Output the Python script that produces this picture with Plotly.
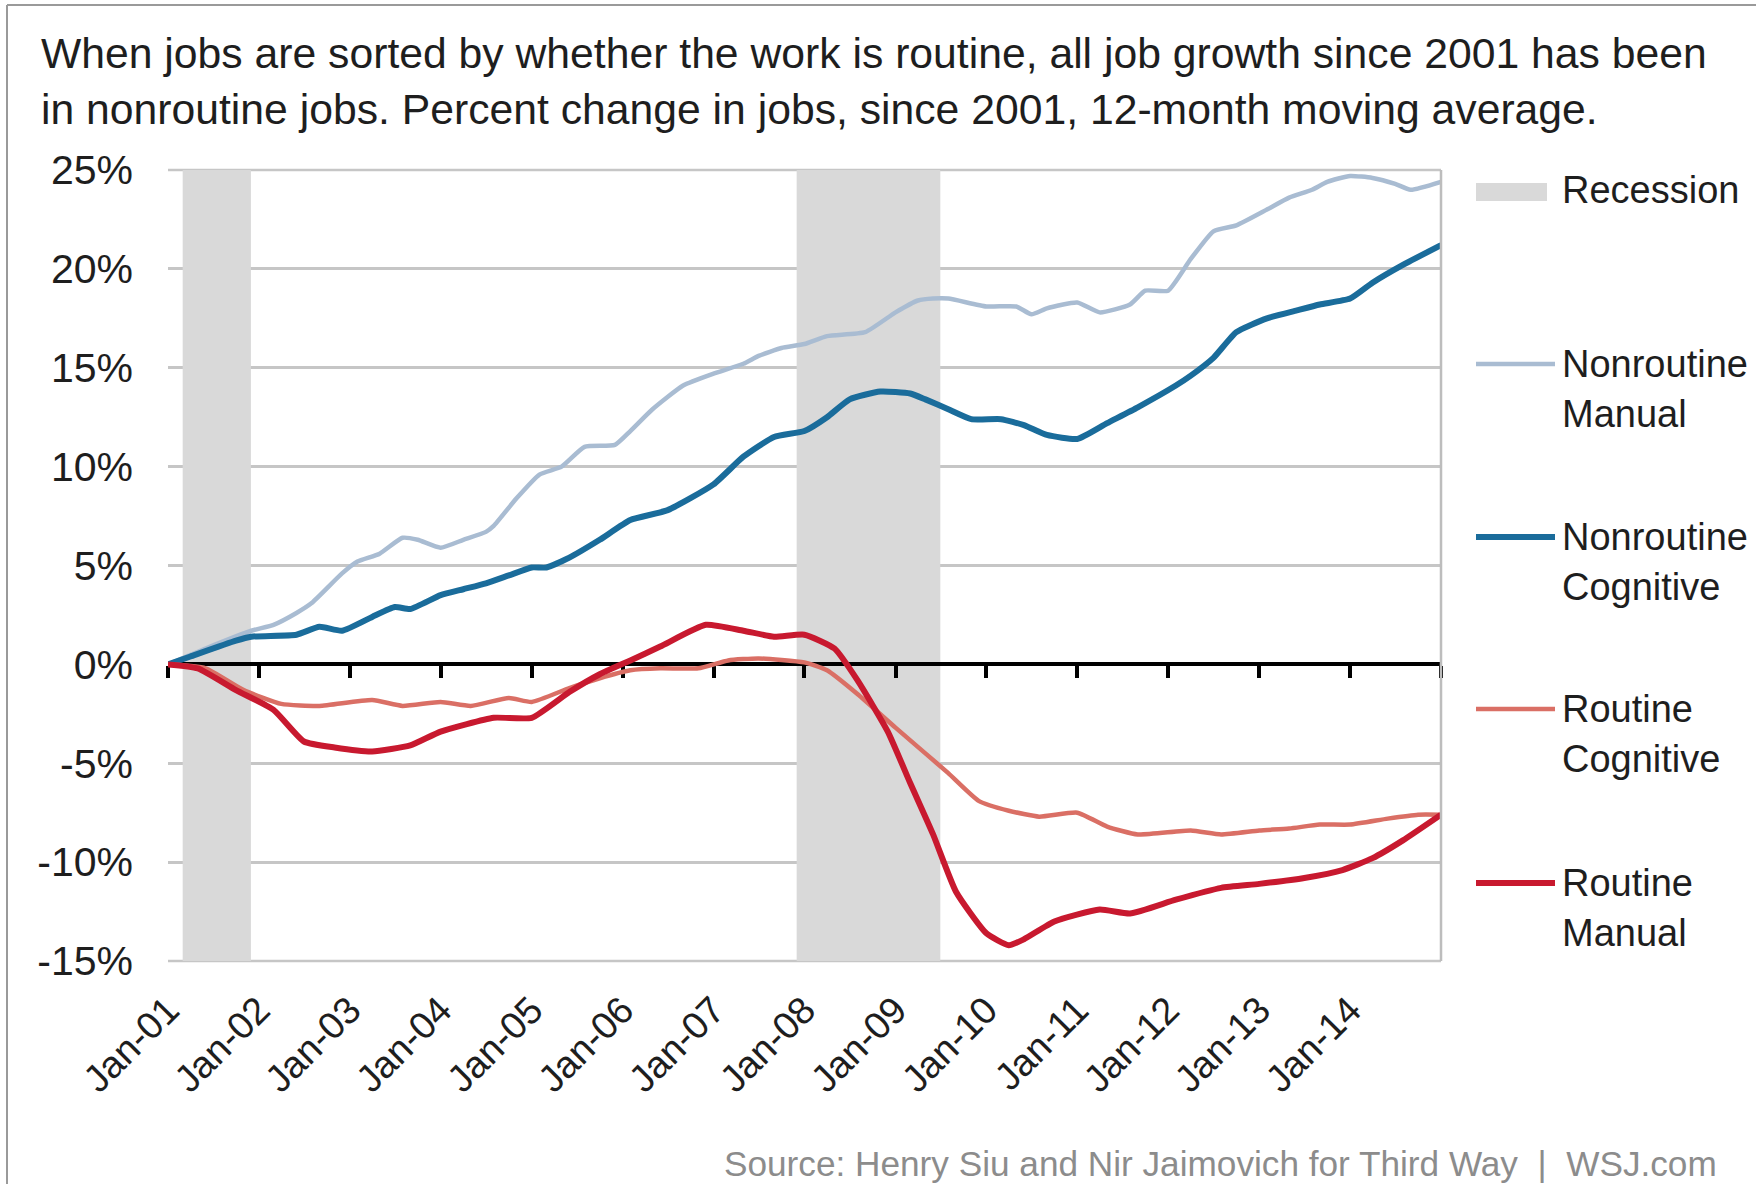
import plotly.graph_objects as go

# Percent change in jobs since January 2001, 12-month moving average
nm_dates = ["2001-01", "2001-06", "2001-12", "2002-03", "2002-06", "2002-08", "2002-12",
            "2003-02", "2003-05", "2003-08", "2003-10", "2004-01", "2004-04", "2004-07",
            "2004-08", "2004-11", "2005-02", "2005-05", "2005-08", "2005-12", "2006-02",
            "2006-05", "2006-09", "2007-01", "2007-05", "2007-07", "2007-10", "2008-01",
            "2008-04", "2008-09", "2009-01", "2009-04", "2009-06", "2009-08", "2010-01",
            "2010-05", "2010-07", "2010-09", "2011-01", "2011-04", "2011-08", "2011-10",
            "2012-01", "2012-04", "2012-07", "2012-10", "2013-02", "2013-05", "2013-08",
            "2013-10", "2014-01", "2014-04", "2014-07", "2014-09", "2015-01"]
nm_vals = [0.0, 0.8, 1.7, 2.0, 2.6, 3.1, 4.6,
           5.2, 5.6, 6.4, 6.3, 5.9, 6.3, 6.7,
           7.0, 8.4, 9.6, 10.0, 11.0, 11.1, 11.8,
           12.9, 14.1, 14.7, 15.2, 15.6, 16.0, 16.2,
           16.6, 16.8, 17.8, 18.4, 18.5, 18.5, 18.1,
           18.1, 17.7, 18.0, 18.3, 17.8, 18.2, 18.9,
           18.9, 20.5, 21.9, 22.2, 23.0, 23.6, 24.0,
           24.4, 24.7, 24.6, 24.3, 24.0, 24.4]

nc_dates = ["2001-01", "2001-04", "2001-10", "2001-12", "2002-06", "2002-09", "2002-12",
            "2003-04", "2003-07", "2003-09", "2004-01", "2004-04", "2004-07", "2004-10",
            "2005-01", "2005-03", "2005-06", "2005-10", "2006-02", "2006-07", "2007-01",
            "2007-05", "2007-09", "2008-01", "2008-04", "2008-07", "2008-11", "2009-03",
            "2009-05", "2009-08", "2009-11", "2010-03", "2010-06", "2010-09", "2011-01",
            "2011-05", "2011-09", "2012-02", "2012-04", "2012-07", "2012-10", "2013-02",
            "2013-06", "2013-09", "2014-01", "2014-04", "2014-08", "2015-01"]
nc_vals = [0.0, 0.4, 1.2, 1.4, 1.5, 1.9, 1.7,
           2.4, 2.9, 2.8, 3.5, 3.8, 4.1, 4.5,
           4.9, 4.9, 5.4, 6.3, 7.3, 7.8, 9.1,
           10.5, 11.5, 11.8, 12.5, 13.4, 13.8, 13.7,
           13.4, 12.9, 12.4, 12.4, 12.1, 11.6, 11.4,
           12.2, 13.0, 14.1, 14.6, 15.5, 16.8, 17.5,
           17.9, 18.2, 18.5, 19.3, 20.2, 21.2]

rc_dates = ["2001-01", "2001-06", "2001-11", "2002-04", "2002-09", "2003-04", "2003-08",
            "2004-01", "2004-05", "2004-10", "2005-01", "2005-06", "2005-10", "2006-02",
            "2006-06", "2006-11", "2007-03", "2007-07", "2008-01", "2008-04", "2008-08",
            "2009-01", "2009-05", "2009-08", "2009-12", "2010-04", "2010-08", "2011-01",
            "2011-05", "2011-09", "2012-04", "2012-08", "2013-01", "2013-05", "2013-09",
            "2014-01", "2014-06", "2014-10", "2015-01"]
rc_vals = [0.0, -0.2, -1.3, -2.0, -2.1, -1.8, -2.1,
           -1.9, -2.1, -1.7, -1.9, -1.2, -0.7, -0.3,
           -0.2, -0.2, 0.2, 0.3, 0.1, -0.3, -1.5,
           -3.2, -4.5, -5.5, -6.9, -7.4, -7.7, -7.5,
           -8.2, -8.6, -8.4, -8.6, -8.4, -8.3, -8.1,
           -8.1, -7.8, -7.6, -7.6]

rm_dates = ["2001-01", "2001-05", "2001-10", "2002-03", "2002-07", "2002-11", "2003-04",
            "2003-09", "2004-01", "2004-08", "2005-01", "2005-06", "2005-10", "2006-02",
            "2006-06", "2006-12", "2007-05", "2007-09", "2008-01", "2008-05", "2008-08",
            "2008-12", "2009-03", "2009-06", "2009-09", "2010-01", "2010-04", "2010-06",
            "2010-10", "2011-04", "2011-08", "2012-02", "2012-08", "2013-01", "2013-07",
            "2013-12", "2014-04", "2014-08", "2015-01"]
rm_vals = [0.0, -0.2, -1.3, -2.3, -3.9, -4.2, -4.4,
           -4.1, -3.4, -2.7, -2.7, -1.4, -0.5, 0.2,
           0.9, 2.0, 1.7, 1.4, 1.5, 0.8, -0.8,
           -3.4, -6.0, -8.6, -11.5, -13.6, -14.2, -13.9,
           -13.0, -12.4, -12.6, -11.9, -11.3, -11.1, -10.8,
           -10.4, -9.8, -8.9, -7.6]

series_names = [["Nonroutine", "Manual"], ["Nonroutine", "Cognitive"],
                ["Routine", "Cognitive"], ["Routine", "Manual"]]
series_dates = [nm_dates, nc_dates, rc_dates, rm_dates]
series_vals = [nm_vals, nc_vals, rc_vals, rm_vals]

recession_starts = ["2001-03-01", "2007-12-01"]
recession_ends = ["2001-11-30", "2009-06-30"]

year_ticks = [f"{y}-01-01" for y in range(2001, 2016)]
year_labels = [f"Jan-{y % 100:02d}" for y in range(2001, 2015)]
y_ticks = [-15, -10, -5, 0, 5, 10, 15, 20, 25]

# --- styling ---
colors = ["#a9bcd2", "#1a6c9b", "#da6f65", "#c8192f"]
widths = [4.5, 6, 4.5, 6]
FONT = "Liberation Sans, Arial, Helvetica, sans-serif"
TEXT = "#1e1e1e"
GRID = "#c6c6c6"

W, H = 1756, 1184
L, R, T, B = 168, 315, 170, 223
PW, PH = W - L - R, H - T - B


def px_x(px):
    return (px - L) / PW


def px_y(py):
    return (H - B - py) / PH


y_min, y_max = -15, 25
x_range = ["2001-01-01", "2015-01-01"]

fig = go.Figure()

for name, d, v, c, w in zip(series_names, series_dates, series_vals, colors, widths):
    fig.add_trace(go.Scatter(x=d, y=v, mode="lines", name=" ".join(name),
                             line=dict(color=c, width=w, shape="spline", smoothing=0.5),
                             showlegend=False))

# empty trace that carries the zero-line axis with the year ticks
fig.add_trace(go.Scatter(x=[], y=[], xaxis="x2", showlegend=False, hoverinfo="skip"))

# top and bottom gridlines at the ends of the value axis
for edge in (0, 1):
    fig.add_shape(type="line", xref="paper", yref="paper", x0=0, x1=1, y0=edge, y1=edge,
                  line=dict(color=GRID, width=2.5), layer="below")

# recession shading spans the full value axis, above the gridlines
for s, e in zip(recession_starts, recession_ends):
    fig.add_shape(type="rect", xref="x", yref="y", x0=s, x1=e, y0=y_min, y1=y_max,
                  fillcolor="#d9d9d9", line_width=0, layer="between")

# right frame of the plot area
fig.add_shape(type="line", xref="x domain", yref="y domain", x0=1, x1=1, y0=0, y1=1,
              line=dict(color="#bdbdbd", width=2.5), layer="above")

# outer frame (top and left edges)
fig.add_shape(type="line", xref="paper", yref="paper", x0=px_x(7), x1=px_x(W + 10),
              y0=px_y(5), y1=px_y(5), line=dict(color="#9a9a9a", width=2))
fig.add_shape(type="line", xref="paper", yref="paper", x0=px_x(7), x1=px_x(7),
              y0=px_y(5), y1=px_y(H + 10), line=dict(color="#9a9a9a", width=2))

annotations = []
title_lines = ["When jobs are sorted by whether the work is routine, all job growth since 2001 has been",
               "in nonroutine jobs. Percent change in jobs, since 2001, 12-month moving average."]
for line, cy in zip(title_lines, [53, 109]):
    annotations.append(dict(text=line, xref="paper", yref="paper", x=px_x(39), y=px_y(cy),
                            xanchor="left", yanchor="middle", showarrow=False,
                            font=dict(family=FONT, size=42.7, color=TEXT)))

annotations.append(dict(text="Source: Henry Siu and Nir Jaimovich for Third Way  |  WSJ.com",
                        xref="paper", yref="paper", x=px_x(1719), y=px_y(1163),
                        xanchor="right", yanchor="middle", showarrow=False,
                        font=dict(family=FONT, size=35.2, color="#8c8c8c")))

# legend drawn beside the plot
fig.add_shape(type="rect", xref="paper", yref="paper", x0=px_x(1476), x1=px_x(1547),
              y0=px_y(183), y1=px_y(201), fillcolor="#d9d9d9", line_width=0)
annotations.append(dict(text="Recession", xref="paper", yref="paper", x=px_x(1560), y=px_y(190),
                        xanchor="left", yanchor="middle", showarrow=False,
                        font=dict(family=FONT, size=38, color=TEXT)))
legend_rows = [364, 537, 709, 883]
for name, c, w, ly in zip(series_names, colors, widths, legend_rows):
    fig.add_shape(type="line", xref="paper", yref="paper", x0=px_x(1476), x1=px_x(1555),
                  y0=px_y(ly), y1=px_y(ly), line=dict(color=c, width=w))
    for k, part in enumerate(name):
        annotations.append(dict(text=part, xref="paper", yref="paper", x=px_x(1560),
                                y=px_y(ly + 50 * k), xanchor="left", yanchor="middle",
                                showarrow=False, font=dict(family=FONT, size=38, color=TEXT)))

fig.update_layout(
    width=W, height=H,
    margin=dict(l=L, r=R, t=T, b=B),
    paper_bgcolor="white", plot_bgcolor="rgba(0,0,0,0)",
    showlegend=False,
    font=dict(family=FONT, color=TEXT),
    annotations=annotations,
    xaxis=dict(type="date", range=x_range, tickvals=year_ticks[:-1], ticktext=year_labels,
               tickangle=-45, tickfont=dict(family=FONT, size=38, color=TEXT),
               showgrid=False, zeroline=False, showline=False, ticks="",
               ticklabelstandoff=18, fixedrange=True),
    xaxis2=dict(type="date", range=x_range, overlaying="x", anchor="free",
                position=(0 - y_min) / (y_max - y_min), tickvals=year_ticks,
                showticklabels=False, showgrid=False, zeroline=False,
                showline=True, linecolor="black", linewidth=4,
                ticks="outside", ticklen=12, tickwidth=3.5, tickcolor="black",
                layer="below traces"),
    yaxis=dict(range=[y_min, y_max], tickvals=y_ticks,
               ticktext=[f"{v}%" for v in y_ticks],
               tickfont=dict(family=FONT, size=41, color=TEXT),
               showgrid=True, gridcolor=GRID, gridwidth=2.5,
               zeroline=False, showline=False, ticks="", ticklabelstandoff=34,
               fixedrange=True),
)

fig.write_html("out.html")
